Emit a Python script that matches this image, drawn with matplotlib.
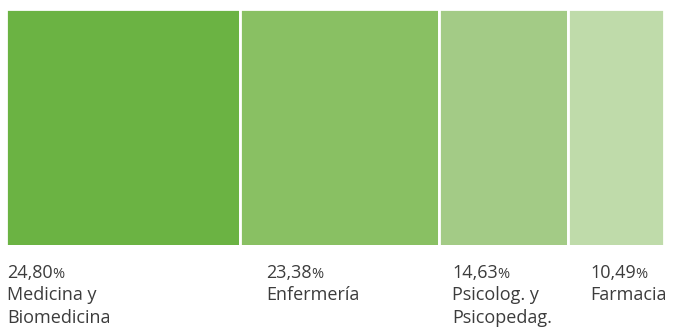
import matplotlib
matplotlib.use("Agg")
import matplotlib.pyplot as plt

# Data
categories = ["Medicina y\nBiomedicina", "Enfermería", "Psicolog. y\nPsicopedag.", "Farmacia"]
shares = [24.80, 23.38, 14.63, 10.49]
share_labels = ["24,80", "23,38", "14,63", "10,49"]
# relative block widths as drawn in the picture
block_widths = [233.0, 198.5, 128.5, 96.5]
colors = ["#6bb343", "#89c063", "#a3cb86", "#bfdbaa"]

W, H = 674, 329
fig = plt.figure(figsize=(W / 100, H / 100), dpi=100)
ax = fig.add_axes([7 / W, 1 - 245 / H, (663.5 - 7) / W, (245 - 9) / H])
ax.set_axis_off()

lefts = []
acc = 0.0
for w in block_widths:
    lefts.append(acc)
    acc += w
ax.bar(lefts, [1] * len(block_widths), width=block_widths, align="edge",
       color=colors, edgecolor="white", linewidth=2.0)
ax.set_xlim(1.2, acc - 0.8)
ax.set_ylim(0.004, 1)

font = "Open Sans"
txt_color = "#3c3c3c"
label_x = [7, 266, 452, 590]
base1 = 278
line_h = 22.5
fs = 13

fig.canvas.draw()
renderer = fig.canvas.get_renderer()
for x, num, cat in zip(label_x, share_labels, categories):
    t = fig.text(x / W, 1 - base1 / H, num, fontsize=fs, family=font,
                 color=txt_color, va="baseline", ha="left")
    bb = t.get_window_extent(renderer=renderer)
    fig.text((bb.x1 - 0.5) / W, 1 - base1 / H, "%", fontsize=10.5, family=font,
             color=txt_color, va="baseline", ha="left")
    for i, line in enumerate(cat.split("\n")):
        fig.text(x / W, 1 - (base1 + line_h * (i + 1)) / H, line, fontsize=fs,
                 family=font, color=txt_color, va="baseline", ha="left")

fig.savefig("out.png", dpi=100)
